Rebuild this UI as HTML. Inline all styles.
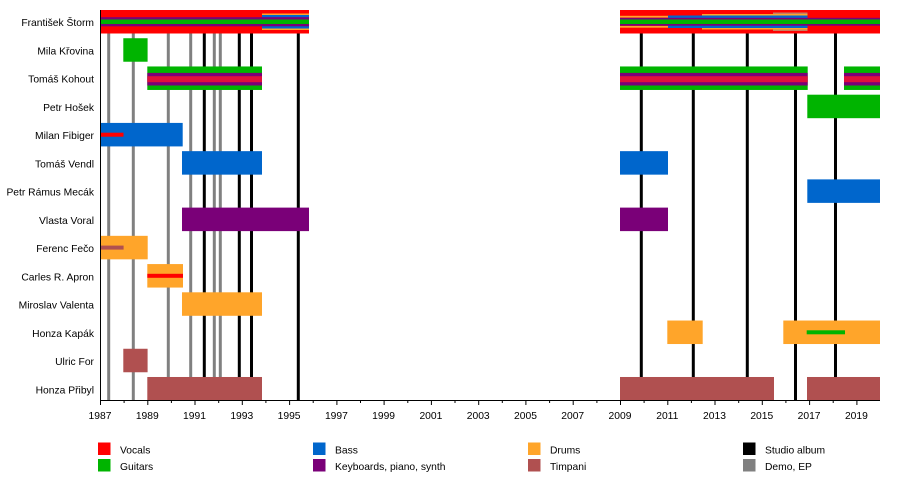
<!DOCTYPE html>
<html>
<head>
<meta charset="utf-8">
<style>
  html, body { margin:0; padding:0; background:#fff; }
  svg { display:block; }
  text { font-family: "Liberation Sans", Arial, sans-serif; font-size:10.3px; fill:#000; }
</style>
</head>
<body>
<svg width="900" height="480" viewBox="0 0 900 480" xmlns="http://www.w3.org/2000/svg">
  <rect x="0" y="0" width="900" height="480" fill="#fff"/>

  <!-- event lines (behind bars) -->
  <g stroke="#808080" stroke-width="3">
    <line x1="108.7" y1="10" x2="108.7" y2="400"/>
    <line x1="133.3" y1="10" x2="133.3" y2="400"/>
    <line x1="168.3" y1="10" x2="168.3" y2="400"/>
    <line x1="190.7" y1="10" x2="190.7" y2="400"/>
    <line x1="214.3" y1="10" x2="214.3" y2="400"/>
    <line x1="220.3" y1="10" x2="220.3" y2="400"/>
  </g>
  <g stroke="#000" stroke-width="3">
    <line x1="204.3" y1="10" x2="204.3" y2="400"/>
    <line x1="239.3" y1="10" x2="239.3" y2="400"/>
    <line x1="251.5" y1="10" x2="251.5" y2="400"/>
    <line x1="298.3" y1="10" x2="298.3" y2="400"/>
    <line x1="641.3" y1="10" x2="641.3" y2="400"/>
    <line x1="693.3" y1="10" x2="693.3" y2="400"/>
    <line x1="747.3" y1="10" x2="747.3" y2="400"/>
    <line x1="795.5" y1="10" x2="795.5" y2="400"/>
    <line x1="835.5" y1="10" x2="835.5" y2="400"/>
  </g>

  <!-- Row 0: František Štorm (top 10) -->
  <rect x="100" y="10" width="209" height="23.5" fill="#ff0000"/>
  <rect x="262" y="13.5" width="47" height="16.5" fill="#ffa52a"/>
  <rect x="262" y="15" width="47" height="13.5" fill="#0066cc"/>
  <rect x="100" y="17.2" width="209" height="9.1" fill="#7a0078"/>
  <rect x="100" y="19.5" width="209" height="4.5" fill="#00b400"/>

  <rect x="620" y="10" width="260" height="23.5" fill="#ff0000"/>
  <rect x="773" y="12.5" width="34.5" height="18.5" fill="#c88060"/>
  <rect x="702" y="14" width="105.5" height="15.5" fill="#ffa52a"/>
  <rect x="668" y="15.5" width="139.5" height="12.5" fill="#0066cc"/>
  <rect x="620" y="15.8" width="48" height="11.9" fill="#ffa52a"/>
  <rect x="620" y="17.6" width="48" height="8.3" fill="#ff0000"/>
  <rect x="620" y="17.8" width="260" height="7.9" fill="#7a0078"/>
  <rect x="620" y="19.5" width="260" height="4.5" fill="#00b400"/>

  <!-- Row 1: Mila Křovina (top 38.23) -->
  <rect x="123.3" y="38.23" width="24.3" height="23.5" fill="#00b400"/>

  <!-- Row 2: Tomáš Kohout (top 66.46) -->
  <g>
    <rect x="147.3" y="66.46" width="114.7" height="23.5" fill="#00b400"/>
    <rect x="147.3" y="72.9" width="114.7" height="12.6" fill="#7a0078"/>
    <rect x="147.3" y="76.2" width="114.7" height="6" fill="#e0103c"/>
    <rect x="620" y="66.46" width="187.7" height="23.5" fill="#00b400"/>
    <rect x="620" y="72.9" width="187.7" height="12.6" fill="#7a0078"/>
    <rect x="620" y="76.2" width="187.7" height="6" fill="#e0103c"/>
    <rect x="844" y="66.46" width="36" height="23.5" fill="#00b400"/>
    <rect x="844" y="72.9" width="36" height="12.6" fill="#7a0078"/>
    <rect x="844" y="76.2" width="36" height="6" fill="#e0103c"/>
  </g>

  <!-- Row 3: Petr Hošek (top 94.69) -->
  <rect x="807.3" y="94.69" width="72.7" height="23.5" fill="#00b400"/>

  <!-- Row 4: Milan Fibiger (top 122.92) -->
  <rect x="100" y="122.92" width="82.7" height="23.5" fill="#0066cc"/>
  <rect x="100" y="132.7" width="23.5" height="4" fill="#ff0000"/>

  <!-- Row 5: Tomáš Vendl (top 151.15) -->
  <rect x="182" y="151.15" width="80" height="23.5" fill="#0066cc"/>
  <rect x="620" y="151.15" width="48" height="23.5" fill="#0066cc"/>

  <!-- Row 6: Petr Rámus Mecák (top 179.38) -->
  <rect x="807.3" y="179.38" width="72.7" height="23.5" fill="#0066cc"/>

  <!-- Row 7: Vlasta Voral (top 207.61) -->
  <rect x="182" y="207.61" width="127" height="23.5" fill="#7a0078"/>
  <rect x="620" y="207.61" width="48" height="23.5" fill="#7a0078"/>

  <!-- Row 8: Ferenc Fečo (top 235.84) -->
  <rect x="100" y="235.84" width="47.7" height="23.5" fill="#ffa52a"/>
  <rect x="100" y="245.6" width="23.6" height="4" fill="#b05050"/>

  <!-- Row 9: Carles R. Apron (top 264.07) -->
  <rect x="147.3" y="264.07" width="35.7" height="23.5" fill="#ffa52a"/>
  <rect x="147.3" y="273.8" width="35.7" height="4" fill="#ff0000"/>

  <!-- Row 10: Miroslav Valenta (top 292.3) -->
  <rect x="182" y="292.3" width="80" height="23.5" fill="#ffa52a"/>

  <!-- Row 11: Honza Kapák (top 320.53) -->
  <rect x="667.3" y="320.53" width="35.4" height="23.5" fill="#ffa52a"/>
  <rect x="783.3" y="320.53" width="96.7" height="23.5" fill="#ffa52a"/>
  <rect x="806.7" y="330.3" width="38.3" height="4" fill="#00b400"/>

  <!-- Row 12: Ulric For (top 348.76) -->
  <rect x="123.3" y="348.76" width="24.3" height="23.5" fill="#b05050"/>

  <!-- Row 13: Honza Přibyl (top 376.99) -->
  <rect x="147.3" y="376.99" width="114.7" height="23.5" fill="#b05050"/>
  <rect x="620" y="376.99" width="154" height="23.5" fill="#b05050"/>
  <rect x="807" y="376.99" width="73" height="23.5" fill="#b05050"/>

  <!-- Axes -->
  <line x1="100.5" y1="10" x2="100.5" y2="401" stroke="#000" stroke-width="1"/>
  <line x1="100" y1="400.5" x2="880" y2="400.5" stroke="#000" stroke-width="1"/>

  <!-- ticks -->
  <g stroke="#000" stroke-width="1">
    <line x1="100.5" y1="400" x2="100.5" y2="405"/>
    <line x1="124.1" y1="400" x2="124.1" y2="403"/>
    <line x1="147.8" y1="400" x2="147.8" y2="405"/>
    <line x1="171.4" y1="400" x2="171.4" y2="403"/>
    <line x1="195" y1="400" x2="195" y2="405"/>
    <line x1="218.7" y1="400" x2="218.7" y2="403"/>
    <line x1="242.3" y1="400" x2="242.3" y2="405"/>
    <line x1="265.9" y1="400" x2="265.9" y2="403"/>
    <line x1="289.6" y1="400" x2="289.6" y2="405"/>
    <line x1="313.2" y1="400" x2="313.2" y2="403"/>
    <line x1="336.9" y1="400" x2="336.9" y2="405"/>
    <line x1="360.5" y1="400" x2="360.5" y2="403"/>
    <line x1="384.1" y1="400" x2="384.1" y2="405"/>
    <line x1="407.8" y1="400" x2="407.8" y2="403"/>
    <line x1="431.4" y1="400" x2="431.4" y2="405"/>
    <line x1="455" y1="400" x2="455" y2="403"/>
    <line x1="478.7" y1="400" x2="478.7" y2="405"/>
    <line x1="502.3" y1="400" x2="502.3" y2="403"/>
    <line x1="525.9" y1="400" x2="525.9" y2="405"/>
    <line x1="549.6" y1="400" x2="549.6" y2="403"/>
    <line x1="573.2" y1="400" x2="573.2" y2="405"/>
    <line x1="596.9" y1="400" x2="596.9" y2="403"/>
    <line x1="620.5" y1="400" x2="620.5" y2="405"/>
    <line x1="644.1" y1="400" x2="644.1" y2="403"/>
    <line x1="667.8" y1="400" x2="667.8" y2="405"/>
    <line x1="691.4" y1="400" x2="691.4" y2="403"/>
    <line x1="715" y1="400" x2="715" y2="405"/>
    <line x1="738.7" y1="400" x2="738.7" y2="403"/>
    <line x1="762.3" y1="400" x2="762.3" y2="405"/>
    <line x1="785.9" y1="400" x2="785.9" y2="403"/>
    <line x1="809.6" y1="400" x2="809.6" y2="405"/>
    <line x1="833.2" y1="400" x2="833.2" y2="403"/>
    <line x1="856.9" y1="400" x2="856.9" y2="405"/>
  </g>

  <!-- tick labels -->
  <g text-anchor="middle">
    <text x="100" y="419">1987</text>
    <text x="147.3" y="419">1989</text>
    <text x="194.5" y="419">1991</text>
    <text x="241.8" y="419">1993</text>
    <text x="289.1" y="419">1995</text>
    <text x="336.4" y="419">1997</text>
    <text x="383.6" y="419">1999</text>
    <text x="430.9" y="419">2001</text>
    <text x="478.2" y="419">2003</text>
    <text x="525.5" y="419">2005</text>
    <text x="572.7" y="419">2007</text>
    <text x="620" y="419">2009</text>
    <text x="667.3" y="419">2011</text>
    <text x="714.5" y="419">2013</text>
    <text x="761.8" y="419">2015</text>
    <text x="809.1" y="419">2017</text>
    <text x="856.4" y="419">2019</text>
  </g>

  <!-- row labels -->
  <g text-anchor="end">
    <text x="94" y="26.2">František Štorm</text>
    <text x="94" y="54.4">Mila Křovina</text>
    <text x="94" y="82.7">Tomáš Kohout</text>
    <text x="94" y="110.9">Petr Hošek</text>
    <text x="94" y="139.2">Milan Fibiger</text>
    <text x="94" y="167.4">Tomáš Vendl</text>
    <text x="94" y="195.6">Petr Rámus Mecák</text>
    <text x="94" y="223.9">Vlasta Voral</text>
    <text x="94" y="252.1">Ferenc Fečo</text>
    <text x="94" y="280.3">Carles R. Apron</text>
    <text x="94" y="308.6">Miroslav Valenta</text>
    <text x="94" y="336.8">Honza Kapák</text>
    <text x="94" y="365">Ulric For</text>
    <text x="94" y="393.3">Honza Přibyl</text>
  </g>

  <!-- legend -->
  <rect x="98" y="442.5" width="12.5" height="12.5" fill="#ff0000"/>
  <text x="120" y="453.5">Vocals</text>
  <rect x="98" y="459" width="12.5" height="12.5" fill="#00b400"/>
  <text x="120" y="470">Guitars</text>

  <rect x="313" y="442.5" width="12.5" height="12.5" fill="#0066cc"/>
  <text x="335" y="453.5">Bass</text>
  <rect x="313" y="459" width="12.5" height="12.5" fill="#7a0078"/>
  <text x="335" y="470">Keyboards, piano, synth</text>

  <rect x="528" y="442.5" width="12.5" height="12.5" fill="#ffa52a"/>
  <text x="550" y="453.5">Drums</text>
  <rect x="528" y="459" width="12.5" height="12.5" fill="#b05050"/>
  <text x="550" y="470">Timpani</text>

  <rect x="743" y="442.5" width="12.5" height="12.5" fill="#000000"/>
  <text x="765" y="453.5">Studio album</text>
  <rect x="743" y="459" width="12.5" height="12.5" fill="#808080"/>
  <text x="765" y="470">Demo, EP</text>
</svg>
</body>
</html>
